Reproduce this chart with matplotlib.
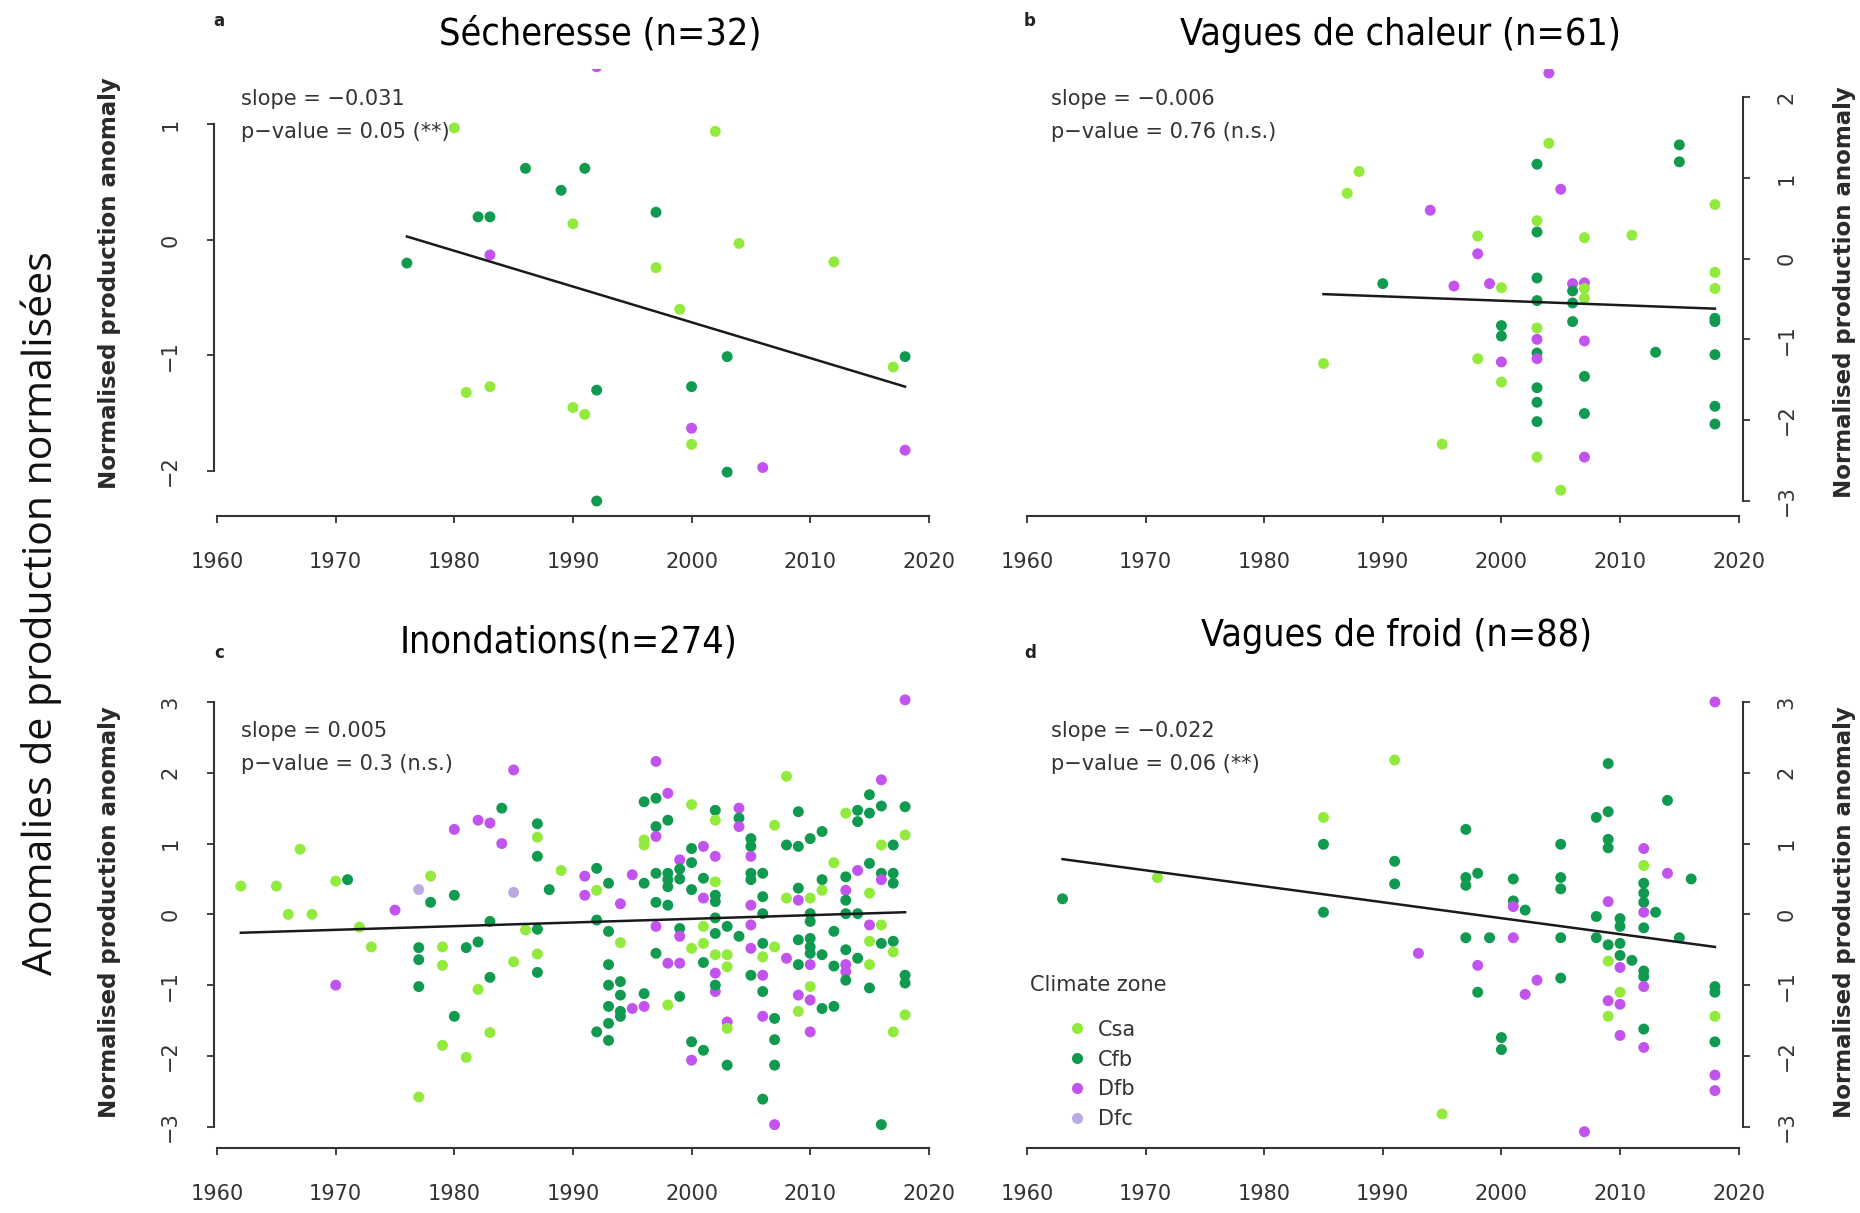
import matplotlib
matplotlib.use("Agg")
import matplotlib.pyplot as plt
from matplotlib import font_manager as fm
from matplotlib.lines import Line2D

plt.rcParams['font.family'] = ['DejaVu Sans']
plt.rcParams['font.size'] = 15

# climate zone colours
zone_colors = {'Csa': '#92ea3c', 'Cfb': '#0f9a50', 'Dfb': '#c253ef', 'Dfc': '#b9aae2'}
zone_names = ['Csa', 'Cfb', 'Dfb', 'Dfc']

# ---- panel a : Sécheresse ----
a_year = [1992, 1980, 2002, 1986, 1991, 1989, 1982, 1983, 1990, 1997, 2004, 1976, 1983,
          1997, 2012, 1999, 2003, 2018, 2017, 1981, 1983, 1992, 2000, 1990, 1991, 2000,
          2000, 2018, 2003, 2006, 1992]
a_val = [1.50, 0.97, 0.94, 0.62, 0.62, 0.43, 0.20, 0.20, 0.14, 0.24, -0.03, -0.20, -0.13,
         -0.24, -0.19, -0.60, -1.01, -1.01, -1.10, -1.32, -1.27, -1.30, -1.27, -1.45, -1.51, -1.63,
         -1.77, -1.82, -2.01, -1.97, -2.26]
a_zone = ['Dfb', 'Csa', 'Csa', 'Cfb', 'Cfb', 'Cfb', 'Cfb', 'Cfb', 'Csa', 'Cfb', 'Csa', 'Cfb', 'Dfb',
          'Csa', 'Csa', 'Csa', 'Cfb', 'Cfb', 'Csa', 'Csa', 'Csa', 'Cfb', 'Cfb', 'Csa', 'Csa', 'Dfb',
          'Csa', 'Dfb', 'Cfb', 'Dfb', 'Cfb']

# ---- panel b : Vagues de chaleur ----
b_year = [2004, 2004, 2015, 2015, 2003, 1988, 1987, 2005, 1994, 2018, 2003, 2003, 1998, 2007,
          2011, 1998, 2018, 2003, 2018, 2006, 2007, 1990, 1996, 1999, 2000, 2006, 2007, 2003,
          2006, 2007, 2018, 2018, 2006, 2000, 2003, 2000, 2003, 2007, 2013, 2018, 2003, 2003,
          1998, 2000, 1985, 2000, 2007, 2003, 2003, 2003, 2007, 2018, 2018, 1995, 2003, 2007,
          2005]
b_val = [2.30, 1.43, 1.41, 1.20, 1.17, 1.08, 0.81, 0.86, 0.60, 0.67, 0.47, 0.33, 0.28, 0.26,
         0.29, 0.06, -0.17, -0.24, -0.37, -0.31, -0.30, -0.31, -0.34, -0.31, -0.36, -0.40, -0.37, -0.52,
         -0.55, -0.49, -0.74, -0.78, -0.78, -0.83, -0.86, -0.96, -1.00, -1.02, -1.16, -1.19, -1.17, -1.24,
         -1.24, -1.28, -1.30, -1.53, -1.46, -1.60, -1.78, -2.02, -1.92, -1.83, -2.05, -2.30, -2.46, -2.46,
         -2.87]
b_zone = ['Dfb', 'Csa', 'Cfb', 'Cfb', 'Cfb', 'Csa', 'Csa', 'Dfb', 'Dfb', 'Csa', 'Csa', 'Cfb', 'Csa', 'Csa',
          'Csa', 'Dfb', 'Csa', 'Cfb', 'Csa', 'Dfb', 'Dfb', 'Cfb', 'Dfb', 'Dfb', 'Csa', 'Cfb', 'Csa', 'Cfb',
          'Cfb', 'Csa', 'Cfb', 'Cfb', 'Cfb', 'Cfb', 'Csa', 'Cfb', 'Dfb', 'Dfb', 'Cfb', 'Cfb', 'Cfb', 'Dfb',
          'Csa', 'Dfb', 'Csa', 'Csa', 'Cfb', 'Cfb', 'Cfb', 'Cfb', 'Cfb', 'Cfb', 'Cfb', 'Csa', 'Csa', 'Dfb',
          'Csa']

# ---- panel c : Inondations ----
c_year = [1962, 1965, 1967, 1966, 1968, 1970, 1971, 1970, 1972, 1973, 1975, 1977, 1978, 1978,
          1977, 1977, 1977, 1977, 1979, 1979, 1979, 1980, 1980, 1980, 1981, 1981, 1982, 1982,
          1983, 1982, 1983, 1983, 1983, 1984, 1984, 1985, 1985, 1986, 1985, 1987, 1987, 1987,
          1987, 1987, 1987, 1988, 1989,
          1991, 1991, 1992, 1992, 1993, 1994, 1992, 1993, 1994, 1993, 1993, 1994, 1994, 1993,
          1994, 1994, 1993, 1992, 1993, 1995, 1995, 1996, 1996, 1996, 1996, 1997, 1998, 1996,
          1996, 1997, 1997, 1998, 1997, 1997, 1998, 1998, 1998, 1997, 1998, 1997, 1997, 1998,
          1999, 1998, 1999, 1999, 1999, 1999, 1999, 1999, 2000, 2000, 2000, 2000, 2000, 2000,
          2000, 2001, 2001, 2001, 2001, 2001, 2001, 2001, 2002, 2002, 2002, 2002, 2002, 2002,
          2002, 2002, 2002, 2002, 2002, 2002, 2003, 2003, 2003, 2003, 2003, 2003, 2004, 2004,
          2004, 2004, 2005, 2005, 2005, 2005, 2005, 2005, 2005, 2005, 2005,
          2006, 2006, 2006, 2006, 2006, 2006, 2006, 2006, 2006, 2007, 2007, 2007, 2007, 2007,
          2007, 2008, 2008, 2008, 2008, 2009, 2009, 2009, 2009, 2009, 2009, 2009, 2009, 2010,
          2010, 2010, 2010, 2010, 2010, 2010, 2010, 2010, 2010, 2010, 2011, 2011, 2011, 2011,
          2011, 2012, 2012, 2012, 2012, 2013, 2013, 2013, 2013, 2013, 2013, 2013, 2013, 2013,
          2014, 2014, 2014, 2014, 2014, 2015, 2015, 2015, 2015, 2015, 2015, 2015, 2015, 2016,
          2016, 2016, 2016, 2016, 2016, 2016, 2016, 2017, 2017, 2017, 2017, 2017, 2017, 2018,
          2018, 2018, 2018, 2018, 2018]
c_val = [0.40, 0.40, 0.92, 0.00, 0.00, 0.47, 0.49, -1.00, -0.18, -0.46, 0.06, 0.35, 0.54, 0.17,
         -0.47, -0.64, -1.02, -2.58, -0.46, -0.72, -1.85, 1.20, 0.27, -1.44, -0.47, -2.02, -0.39, 1.33,
         1.29, -1.06, -0.89, -0.10, -1.67, 1.50, 1.00, 2.04, 0.31, -0.22, -0.67, 1.28, 1.09, 0.82,
         -0.21, -0.56, -0.82, 0.35, 0.62,
         0.54, 0.27, 0.65, 0.34, 0.44, 0.15, -0.08, -0.24, -0.40, -0.71, -1.00, -0.95, -1.14, -1.30,
         -1.37, -1.44, -1.54, -1.66, -1.78, 0.56, -1.33, -1.30, -1.12, 0.44, 1.59, 1.64, 1.71, 1.05,
         0.98, 2.16, 1.24, 1.33, 1.10, 0.58, 0.58, 0.49, 0.39, 0.17, 0.13, -0.17, -0.55, -0.69,
         -0.69, -1.28, 0.77, 0.64, 0.50, -0.20, -0.31, -1.16, 1.55, 0.93, 0.73, 0.35, -0.48, -1.80,
         -2.06, 0.96, 0.51, 0.23, -0.41, -0.68, -1.92, -0.17, 0.82, 1.47, 1.33, 0.46, 0.27, 0.18,
         -0.05, -0.27, -0.57, -0.83, -1.09, -1.00, -0.57, -0.74, -0.17, -2.13, -1.52, -1.61, 1.50, 1.36,
         1.24, -0.31, 1.07, 0.96, 0.82, 0.58, 0.49, 0.13, -0.15, -0.48, -0.86,
         0.58, 0.25, 0.01, -0.41, -0.60, -0.86, -1.09, -1.44, -2.61, -1.47, -1.77, -2.13, -2.97, -0.46,
         1.26, 1.95, 0.98, 0.23, -0.62, 0.96, 1.45, 0.37, 0.20, -0.36, -0.71, -1.14, -1.37, 1.07,
         0.23, 0.01, -0.10, -0.34, -0.46, -0.55, -0.71, -1.02, -1.21, -1.66, 1.17, 0.49, 0.34, -0.57,
         -1.33, -1.30, 0.73, -0.24, -0.73, 0.53, 0.34, 0.20, 0.01, -0.50, -0.71, -0.81, -0.93, 1.43,
         1.47, 1.31, 0.01, 0.62, -0.62, 1.69, 1.43, 0.72, 0.30, -0.15, -0.38, -0.71, -1.04, 1.90,
         1.53, 0.98, 0.58, 0.49, -0.15, -0.41, -2.97, 0.98, 0.58, 0.44, -0.38, -0.53, -1.66, 3.03,
         1.52, 1.12, -0.86, -0.97, -1.42]
c_zone = ['Csa', 'Csa', 'Csa', 'Csa', 'Csa', 'Csa', 'Cfb', 'Dfb', 'Csa', 'Csa', 'Dfb', 'Dfc', 'Csa', 'Cfb',
          'Cfb', 'Cfb', 'Cfb', 'Csa', 'Csa', 'Csa', 'Csa', 'Dfb', 'Cfb', 'Cfb', 'Cfb', 'Csa', 'Cfb', 'Dfb',
          'Dfb', 'Csa', 'Cfb', 'Cfb', 'Csa', 'Cfb', 'Dfb', 'Dfb', 'Dfc', 'Csa', 'Csa', 'Cfb', 'Csa', 'Cfb',
          'Cfb', 'Csa', 'Cfb', 'Cfb', 'Csa',
          'Dfb', 'Dfb', 'Cfb', 'Csa', 'Cfb', 'Dfb', 'Cfb', 'Cfb', 'Csa', 'Cfb', 'Cfb', 'Cfb', 'Cfb', 'Cfb',
          'Cfb', 'Cfb', 'Cfb', 'Cfb', 'Cfb', 'Dfb', 'Dfb', 'Dfb', 'Cfb', 'Cfb', 'Cfb', 'Cfb', 'Dfb', 'Csa',
          'Csa', 'Dfb', 'Cfb', 'Cfb', 'Dfb', 'Cfb', 'Cfb', 'Cfb', 'Cfb', 'Cfb', 'Cfb', 'Dfb', 'Cfb', 'Dfb',
          'Dfb', 'Csa', 'Dfb', 'Cfb', 'Cfb', 'Cfb', 'Dfb', 'Cfb', 'Csa', 'Cfb', 'Cfb', 'Cfb', 'Csa', 'Cfb',
          'Dfb', 'Dfb', 'Cfb', 'Dfb', 'Csa', 'Cfb', 'Cfb', 'Csa', 'Dfb', 'Cfb', 'Csa', 'Csa', 'Cfb', 'Cfb',
          'Cfb', 'Cfb', 'Csa', 'Dfb', 'Dfb', 'Cfb', 'Csa', 'Csa', 'Cfb', 'Cfb', 'Dfb', 'Csa', 'Dfb', 'Cfb',
          'Dfb', 'Cfb', 'Cfb', 'Cfb', 'Dfb', 'Cfb', 'Cfb', 'Dfb', 'Dfb', 'Dfb', 'Cfb',
          'Cfb', 'Cfb', 'Cfb', 'Cfb', 'Csa', 'Dfb', 'Cfb', 'Dfb', 'Cfb', 'Cfb', 'Cfb', 'Cfb', 'Dfb', 'Csa',
          'Csa', 'Csa', 'Cfb', 'Csa', 'Dfb', 'Cfb', 'Cfb', 'Cfb', 'Dfb', 'Cfb', 'Cfb', 'Dfb', 'Csa', 'Cfb',
          'Csa', 'Cfb', 'Cfb', 'Cfb', 'Cfb', 'Cfb', 'Dfb', 'Csa', 'Dfb', 'Dfb', 'Cfb', 'Cfb', 'Csa', 'Cfb',
          'Cfb', 'Cfb', 'Csa', 'Cfb', 'Cfb', 'Cfb', 'Dfb', 'Cfb', 'Cfb', 'Cfb', 'Dfb', 'Dfb', 'Cfb', 'Csa',
          'Cfb', 'Cfb', 'Cfb', 'Dfb', 'Cfb', 'Cfb', 'Cfb', 'Cfb', 'Csa', 'Dfb', 'Csa', 'Csa', 'Cfb', 'Dfb',
          'Cfb', 'Csa', 'Cfb', 'Dfb', 'Csa', 'Cfb', 'Cfb', 'Cfb', 'Cfb', 'Cfb', 'Cfb', 'Csa', 'Csa', 'Dfb',
          'Cfb', 'Csa', 'Cfb', 'Cfb', 'Csa']

# ---- panel d : Vagues de froid ----
d_year = [2018, 1991, 2009, 2014, 1985, 2008, 2009, 1997, 2009, 2009, 1985, 2005, 2012, 1991,
          1991, 1971, 1997, 1998, 1997, 2001, 2005, 2005, 2014, 2016, 2012, 2012, 2012, 2012,
          1963, 1985, 2001, 2001, 2002, 2009, 2012, 2013, 2008, 2010, 2010, 1997, 1999, 2001,
          2005, 2008, 2012, 2015, 2009, 2010, 1993, 2010, 2011, 2009, 1998, 2010, 2012, 2012,
          2005, 2003, 2012, 2018, 2018, 1998, 2002, 2010, 2009, 2010, 2009, 2018, 2012, 2010,
          2012, 2000, 2000, 2018, 2018, 2018, 1995, 2007]
d_val = [3.00, 2.18, 2.13, 1.61, 1.37, 1.37, 1.45, 1.20, 1.06, 0.94, 0.99, 0.99, 0.93, 0.75,
         0.43, 0.52, 0.52, 0.58, 0.41, 0.50, 0.52, 0.36, 0.58, 0.50, 0.44, 0.30, 0.17, 0.69,
         0.22, 0.03, 0.19, 0.11, 0.06, 0.18, 0.03, 0.03, -0.03, -0.06, -0.17, -0.33, -0.33, -0.33,
         -0.33, -0.33, -0.19, -0.33, -0.43, -0.41, -0.55, -0.58, -0.65, -0.66, -0.72, -0.75, -0.80, -0.88,
         -0.90, -0.93, -1.02, -1.02, -1.10, -1.10, -1.13, -1.10, -1.22, -1.27, -1.44, -1.44, -1.62, -1.71,
         -1.88, -1.74, -1.91, -1.80, -2.27, -2.49, -2.82, -3.07]
d_zone = ['Dfb', 'Csa', 'Cfb', 'Cfb', 'Csa', 'Cfb', 'Cfb', 'Cfb', 'Cfb', 'Cfb', 'Cfb', 'Cfb', 'Dfb', 'Cfb',
          'Cfb', 'Csa', 'Cfb', 'Cfb', 'Cfb', 'Cfb', 'Cfb', 'Cfb', 'Dfb', 'Cfb', 'Cfb', 'Cfb', 'Cfb', 'Csa',
          'Cfb', 'Cfb', 'Cfb', 'Dfb', 'Cfb', 'Dfb', 'Dfb', 'Cfb', 'Cfb', 'Cfb', 'Cfb', 'Cfb', 'Cfb', 'Dfb',
          'Cfb', 'Cfb', 'Cfb', 'Cfb', 'Cfb', 'Cfb', 'Dfb', 'Cfb', 'Cfb', 'Csa', 'Dfb', 'Dfb', 'Cfb', 'Cfb',
          'Cfb', 'Dfb', 'Dfb', 'Cfb', 'Cfb', 'Cfb', 'Dfb', 'Csa', 'Dfb', 'Dfb', 'Csa', 'Csa', 'Cfb', 'Dfb',
          'Dfb', 'Cfb', 'Cfb', 'Cfb', 'Dfb', 'Dfb', 'Csa', 'Dfb']

# regression lines (end points)
fit_a_x, fit_a_y = [1976, 2018], [0.03, -1.27]
fit_b_x, fit_b_y = [1985, 2018], [-0.44, -0.62]
fit_c_x, fit_c_y = [1962, 2018], [-0.26, 0.03]
fit_d_x, fit_d_y = [1963, 2018], [0.78, -0.46]

titles = ['Sécheresse (n=32)', 'Vagues de chaleur (n=61)', 'Inondations(n=274)', 'Vagues de froid (n=88)']
letters = ['a', 'b', 'c', 'd']
slopes = ['slope = \u22120.031', 'slope = \u22120.006', 'slope = 0.005', 'slope = \u22120.022']
pvalues = ['p\u2212value = 0.05 (**)', 'p\u2212value = 0.76 (n.s.)', 'p\u2212value = 0.3 (n.s.)',
           'p\u2212value = 0.06 (**)']
year_ticks = [1960, 1970, 1980, 1990, 2000, 2010, 2020]


def narrow_font():
    # titles use a condensed face; take whatever narrow font is installed
    for f in fm.fontManager.ttflist:
        n = f.fname.lower()
        if ('narrow' in n or 'condensed' in n) and 'bold' not in n and 'oblique' not in n \
                and 'italic' not in n:
            return fm.FontProperties(fname=f.fname)
    return None


title_fp = narrow_font()

W, H = 1860, 1213
fig = plt.figure(figsize=(W / 100, H / 100), dpi=100)

panels = [
    dict(data=(a_year, a_val, a_zone), fit=(fit_a_x, fit_a_y), ylim=(-2.39, 1.48), yt=[-2, -1, 0, 1],
         rect=[0.0944, 0.5746, 0.4209, 0.3685], side='left', lab_y=0.52, ann=(0.933, 0.859)),
    dict(data=(b_year, b_val, b_zone), fit=(fit_b_x, fit_b_y), ylim=(-3.19, 2.35), yt=[-3, -2, -1, 0, 1, 2],
         rect=[0.5298, 0.5746, 0.4209, 0.3685], side='right', lab_y=0.50, ann=(0.933, 0.859)),
    dict(data=(c_year, c_val, c_zone), fit=(fit_c_x, fit_c_y), ylim=(-3.30, 3.24), yt=[-3, -2, -1, 0, 1, 2, 3],
         rect=[0.0944, 0.0536, 0.4209, 0.3817], side='left', lab_y=0.51, ann=(0.90, 0.83)),
    dict(data=(d_year, d_val, d_zone), fit=(fit_d_x, fit_d_y), ylim=(-3.30, 3.24), yt=[-3, -2, -1, 0, 1, 2, 3],
         rect=[0.5298, 0.0536, 0.4209, 0.3817], side='right', lab_y=0.51, ann=(0.90, 0.83)),
]

txt_col = '#333333'
axes = []
for i, p in enumerate(panels):
    ax = fig.add_axes(p['rect'])
    axes.append(ax)
    yrs, vals, zones = p['data']
    cols = [zone_colors[z] for z in zones]
    ax.scatter(yrs, vals, s=62, c=cols, edgecolors='none', zorder=2)
    ax.plot(p['fit'][0], p['fit'][1], color='#1a1a1a', lw=1.8, zorder=3)

    ax.set_xlim(1956.5, 2022.5)
    ax.set_ylim(*p['ylim'])
    ax.set_xticks(year_ticks)
    ax.set_yticks(p['yt'])
    ax.spines['top'].set_visible(False)
    ax.spines['bottom'].set_bounds(1960, 2020)
    if p['side'] == 'left':
        ax.spines['right'].set_visible(False)
        ax.spines['left'].set_position(('data', 1959.7))
        ax.spines['left'].set_bounds(p['yt'][0], p['yt'][-1])
        ax.yaxis.tick_left()
    else:
        ax.spines['left'].set_visible(False)
        ax.spines['right'].set_position(('data', 2020.4))
        ax.spines['right'].set_bounds(p['yt'][0], p['yt'][-1])
        ax.yaxis.tick_right()
    for s in ax.spines.values():
        s.set_linewidth(1.5)
        s.set_color('#333333')
    ax.tick_params(axis='both', direction='out', length=5, width=1.3, color='#333333',
                   labelsize=15, labelcolor=txt_col)
    ax.tick_params(axis='x', pad=21)
    ax.tick_params(axis='y', pad=19, labelrotation=90)
    for lab in ax.get_yticklabels():
        lab.set_va('center')

    lab_x = -0.085 if p['side'] == 'left' else 1.097
    ax.text(lab_x, p['lab_y'], 'Normalised production anomaly', transform=ax.transAxes,
            rotation=90, ha='center', va='center', fontsize=16.5, fontweight='bold', color='#2a2a2a')

    # slope / p-value annotation
    ax.text(0.084, p['ann'][0], slopes[i], transform=ax.transAxes, fontsize=15,
            color=txt_col, va='center', ha='left')
    ax.text(0.084, p['ann'][1], pvalues[i], transform=ax.transAxes, fontsize=15,
            color=txt_col, va='center', ha='left')

# titles and panel letters
title_pos = [(600, 35), (1400, 35), (569, 643), (1397, 636)]
letter_pos = [(219, 21), (1030, 21), (219, 653), (1030, 653)]
for i in range(4):
    tx, ty = title_pos[i]
    if title_fp is not None:
        fig.text(tx / W, 1 - ty / H, titles[i], ha='center', va='center', fontproperties=title_fp,
                 fontsize=27, color='black')
    else:
        fig.text(tx / W, 1 - ty / H, titles[i], ha='center', va='center', fontsize=24,
                 family=['Open Sans', 'DejaVu Sans'], color='black')
    lx, ly = letter_pos[i]
    fig.text(lx / W, 1 - ly / H, letters[i], ha='center', va='center', fontsize=12,
             fontweight='bold', color='#222222')

# big French y label
fig.text(41.5 / W, 1 - 613 / H, 'Anomalies de production normalisées', rotation=90,
         ha='center', va='center', fontsize=29.5, family=['Open Sans', 'DejaVu Sans'],
         color='#111111')

# legend in panel d
ax_d = axes[3]
ax_d.text(0.057, 0.352, 'Climate zone', transform=ax_d.transAxes, fontsize=15,
          color=txt_col, va='center', ha='left')
handles = [Line2D([], [], ls='none', marker='o', ms=8, mfc=zone_colors[z], mec='none')
           for z in zone_names]
ax_d.legend(handles, zone_names, loc='upper left', bbox_to_anchor=(0.104, 0.277), frameon=False,
            fontsize=15, handlelength=1.0, handletextpad=0.5, labelspacing=0.47, borderpad=0,
            borderaxespad=0, labelcolor=txt_col)

fig.savefig('out.png', dpi=100)
